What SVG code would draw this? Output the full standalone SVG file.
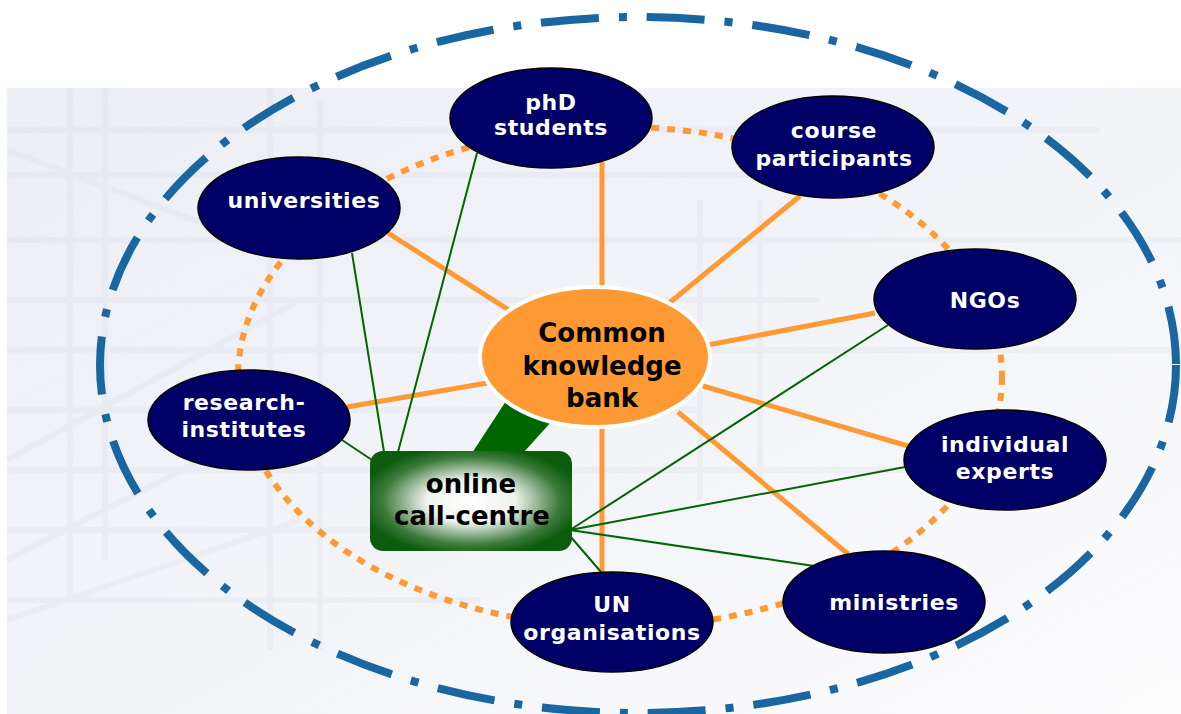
<svg xmlns="http://www.w3.org/2000/svg" width="1181" height="714" viewBox="0 0 1181 714">
<style>
.node{fill:#000066;stroke:#000;stroke-width:1.5}
.nt{font-family:"DejaVu Sans",Verdana,sans-serif;font-weight:bold;font-size:22px;letter-spacing:0.6px;fill:#fff;text-anchor:middle}
.ct{font-family:"DejaVu Sans",Verdana,sans-serif;font-weight:bold;font-size:26px;fill:#000;text-anchor:middle}
.or{stroke:#FF9933;stroke-width:5;fill:none}
.gr{stroke:#006600;stroke-width:2;fill:none}
.bgl{stroke:#dde0ea;fill:none}
</style>
<defs>
<linearGradient id="bgg" x1="0" y1="0" x2="1" y2="1">
<stop offset="0" stop-color="#eceef5"/>
<stop offset="0.55" stop-color="#f3f4f8"/>
<stop offset="1" stop-color="#fdfdfe"/>
</linearGradient>
<radialGradient id="cc" cx="0.5" cy="0.5" r="0.55">
<stop offset="0" stop-color="#ffffff"/>
<stop offset="0.4" stop-color="#eef3ee"/>
<stop offset="0.8" stop-color="#3c7a3c"/>
<stop offset="1" stop-color="#0d5c0d"/>
</radialGradient>
</defs>
<rect width="1181" height="714" fill="#fff"/>
<g id="background">
<rect x="7" y="88" width="1174" height="626" fill="url(#bgg)"/>
<g class="bgl" stroke-width="6" opacity="0.3">
<path d="M7 130 H1100 M7 175 H900 M7 240 H1181 M7 300 H820 M7 350 H1181 M7 410 H700 M7 470 H1000 M7 530 H600 M7 600 H480"/>
<path d="M70 88 V600 M105 88 V560 M270 88 V650 M320 100 V650 M700 200 V500 M760 200 V480"/>
<path d="M7 150 L300 260 M7 460 L300 300 M7 560 L260 430 M7 620 L300 520"/>
</g>
</g>
<g id="rings">
<ellipse cx="638" cy="365" rx="538" ry="348" fill="none" stroke="#1a66a0" stroke-width="8" stroke-dasharray="58 20 8 20"/>
<ellipse cx="620" cy="377" rx="382" ry="250" fill="none" stroke="#FF9933" stroke-width="6" stroke-dasharray="8 8"/>
</g>
<g id="connectors">
<line class="or" x1="602" y1="162" x2="602" y2="292"/>
<line class="or" x1="388" y1="233" x2="512" y2="312"/>
<line class="or" x1="800" y1="196" x2="668" y2="304"/>
<line class="or" x1="875" y1="313" x2="708" y2="345"/>
<line class="or" x1="347" y1="407" x2="487" y2="383"/>
<line class="or" x1="908" y1="446" x2="703" y2="386"/>
<line class="or" x1="848" y1="554" x2="678" y2="412"/>
<line class="or" x1="602" y1="425" x2="602" y2="574"/>
<line class="gr" x1="352" y1="253" x2="384" y2="452"/>
<line class="gr" x1="477" y1="153" x2="398" y2="452"/>
<line class="gr" x1="342" y1="440" x2="372" y2="460"/>
<line class="gr" x1="888" y1="325" x2="570" y2="530"/>
<line class="gr" x1="905" y1="467" x2="570" y2="530"/>
<line class="gr" x1="814" y1="566" x2="570" y2="530"/>
<line class="gr" x1="570" y1="536" x2="601" y2="572"/>
<polygon points="472,453 523,453 562,410 508,398" fill="#006600"/>
</g>
<g id="common-knowledge-bank">
<ellipse cx="595" cy="357" rx="115" ry="70" fill="#FF9933" stroke="#fff" stroke-width="4"/>
<text class="ct" x="602" y="342">Common</text>
<text class="ct" x="602" y="375">knowledge</text>
<text class="ct" x="602" y="407">bank</text>
</g>
<g id="online-call-centre">
<rect x="370" y="451" width="202" height="100" rx="13" fill="url(#cc)"/>
<text class="ct" x="471" y="493">online</text>
<text class="ct" x="472" y="525">call-centre</text>
</g>
<g id="phd-students">
<ellipse class="node" cx="551" cy="118" rx="101" ry="50"/>
<text class="nt" x="551" y="110">phD</text>
<text class="nt" x="551" y="135">students</text>
</g>
<g id="course-participants">
<ellipse class="node" cx="833" cy="147" rx="101" ry="51"/>
<text class="nt" x="834" y="138">course</text>
<text class="nt" x="834" y="166">participants</text>
</g>
<g id="universities">
<ellipse class="node" cx="299" cy="208" rx="101" ry="51"/>
<text class="nt" x="304" y="208">universities</text>
</g>
<g id="ngos">
<ellipse class="node" cx="975" cy="299" rx="101" ry="50"/>
<text class="nt" x="985" y="308">NGOs</text>
</g>
<g id="research-institutes">
<ellipse class="node" cx="249" cy="420" rx="101" ry="50"/>
<text class="nt" x="244" y="410">research-</text>
<text class="nt" x="244" y="437">institutes</text>
</g>
<g id="individual-experts">
<ellipse class="node" cx="1005" cy="460" rx="101" ry="50"/>
<text class="nt" x="1005" y="452">individual</text>
<text class="nt" x="1005" y="479">experts</text>
</g>
<g id="ministries">
<ellipse class="node" cx="884" cy="602" rx="101" ry="51"/>
<text class="nt" x="894" y="610">ministries</text>
</g>
<g id="un-organisations">
<ellipse class="node" cx="612" cy="622" rx="101" ry="50"/>
<text class="nt" x="612" y="612">UN</text>
<text class="nt" x="612" y="640">organisations</text>
</g>
</svg>
